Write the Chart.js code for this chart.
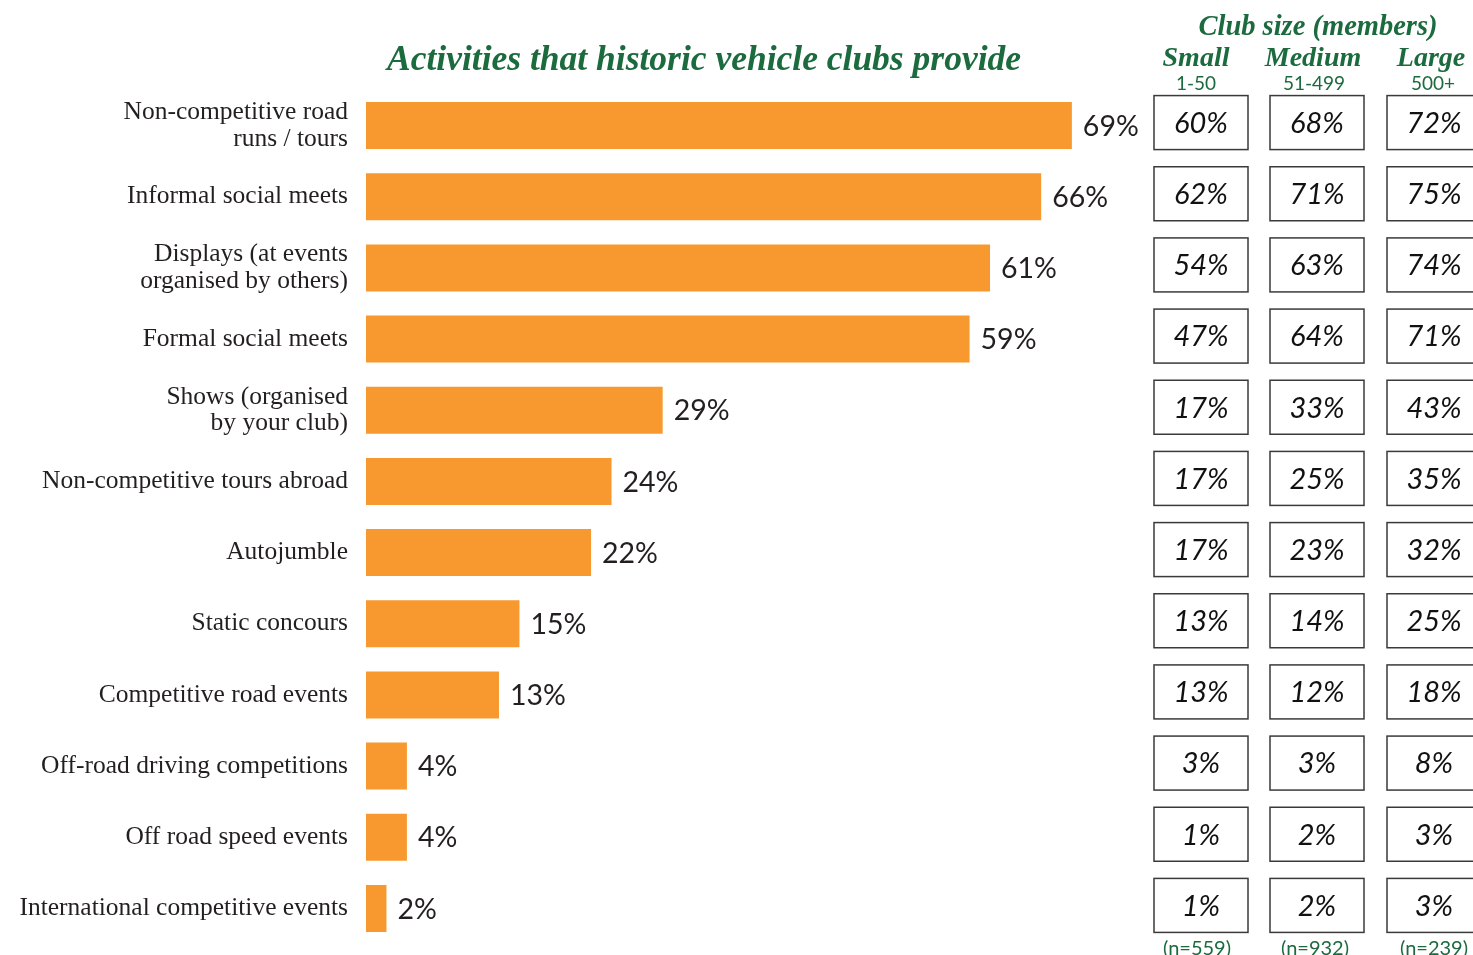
<!DOCTYPE html>
<html>
<head>
<meta charset="utf-8">
<title>Activities that historic vehicle clubs provide</title>
<script src="https://cdn.jsdelivr.net/npm/chart.js@4"></script>
<style>
    html, body { margin: 0; padding: 0; background: #ffffff; }
    #wrap { width: 1473px; height: 955px; position: relative; overflow: hidden; }
</style>
</head>
<body>
<div id="wrap"><canvas id="activitiesChart" width="1473" height="955"></canvas></div>
<script>
// Data
const categories = [
    ['Non-competitive road', 'runs / tours'],
    'Informal social meets',
    ['Displays (at events', 'organised by others)'],
    'Formal social meets',
    ['Shows (organised', 'by your club)'],
    'Non-competitive tours abroad',
    'Autojumble',
    'Static concours',
    'Competitive road events',
    'Off-road driving competitions',
    'Off road speed events',
    'International competitive events'
];
const overallValues = [69, 66, 61, 59, 29, 24, 22, 15, 13, 4, 4, 2];
const smallValues = [60, 62, 54, 47, 17, 17, 17, 13, 13, 3, 1, 1];
const mediumValues = [68, 71, 63, 64, 33, 25, 23, 14, 12, 3, 2, 2];
const largeValues = [72, 75, 74, 71, 43, 35, 32, 25, 18, 8, 3, 3];
const sizeGroups = ['Small', 'Medium', 'Large'];
const sizeRanges = ['1-50', '51-499', '500+'];
const sampleSizes = ['(n=559)', '(n=932)', '(n=239)'];

const colors = {
    bar: '#f7992f',
    green: '#1b6b3e',
    text: '#231f20',
    box: '#3a3a3a'
};

const serif = "'Liberation Serif', 'DejaVu Serif', serif";
const sans = "Lato, 'Open Sans', sans-serif";

// value label at the end of each bar
const valueLabels = {
    id: 'valueLabels',
    afterDatasetsDraw(chart) {
        const ctx = chart.ctx;
        const meta = chart.getDatasetMeta(0);
        ctx.save();
        ctx.font = "28.5px " + sans;
        ctx.fillStyle = colors.text;
        ctx.textAlign = 'left';
        ctx.textBaseline = 'middle';
        meta.data.forEach((bar, i) => {
            ctx.fillText(overallValues[i] + '%', bar.x + 11, bar.y + 1);
        });
        ctx.restore();
    }
};

// title, club-size table and its headers
const clubTable = {
    id: 'clubTable',
    afterDraw(chart) {
        const ctx = chart.ctx;
        const y = chart.scales.y;
        const columns = [
            { left: 1154, values: smallValues },
            { left: 1270, values: mediumValues },
            { left: 1387, values: largeValues }
        ];
        const boxW = 94, boxH = 54;
        ctx.save();

        // main title
        ctx.fillStyle = colors.green;
        ctx.textAlign = 'center';
        ctx.textBaseline = 'alphabetic';
        ctx.font = "italic bold 35.5px " + serif;
        ctx.fillText('Activities that historic vehicle clubs provide', 704, 70);

        // table header
        ctx.font = "italic bold 28.5px " + serif;
        ctx.fillText('Club size (members)', 1318, 35);
        columns.forEach((col, c) => {
            const cx = col.left + boxW / 2;
            ctx.fillStyle = colors.green;
            ctx.font = "italic bold 28px " + serif;
            ctx.fillText(sizeGroups[c], cx - 5 + c * 1, 66);
            ctx.font = "19px " + sans;
            ctx.fillText(sizeRanges[c], cx - 5 + c * 2, 90);
            ctx.font = "20px " + sans;
            ctx.fillText(sampleSizes[c], cx - 4 + c * 2, 955);

            col.values.forEach((v, i) => {
                const cy = y.getPixelForValue(i) - 3;
                ctx.fillStyle = '#ffffff';
                ctx.fillRect(col.left, cy - boxH / 2, boxW, boxH);
                ctx.strokeStyle = colors.box;
                ctx.lineWidth = 1.5;
                ctx.strokeRect(col.left, cy - boxH / 2, boxW, boxH);
                ctx.fillStyle = '#111111';
                ctx.font = "italic 29px " + sans;
                ctx.textBaseline = 'middle';
                ctx.fillText(v + '%', cx, cy + 1);
                ctx.textBaseline = 'alphabetic';
            });
        });
        ctx.restore();
    }
};

const ctxActivities = document.getElementById('activitiesChart').getContext('2d');
new Chart(ctxActivities, {
    type: 'bar',
    data: {
        labels: categories,
        datasets: [{
            label: 'All clubs',
            data: overallValues,
            backgroundColor: colors.bar,
            borderWidth: 0,
            barPercentage: 0.66,
            categoryPercentage: 1.0
        }]
    },
    options: {
        indexAxis: 'y',
        responsive: false,
        animation: false,
        devicePixelRatio: 1,
        layout: { padding: { top: 90, bottom: 11, left: 0, right: 84 } },
        plugins: {
            legend: { display: false },
            tooltip: { enabled: false }
        },
        scales: {
            x: {
                display: false,
                min: 0,
                max: 100
            },
            y: {
                afterFit: (scale) => {
                    scale.width = 366;
                    scale.paddingTop = 0;
                    scale.paddingBottom = 0;
                },
                grid: { display: false, drawTicks: false },
                border: { display: false },
                ticks: {
                    padding: 18,
                    color: colors.text,
                    font: { family: serif, size: 25.5, lineHeight: 1.05 }
                }
            }
        }
    },
    plugins: [valueLabels, clubTable]
});
</script>
</body>
</html>
